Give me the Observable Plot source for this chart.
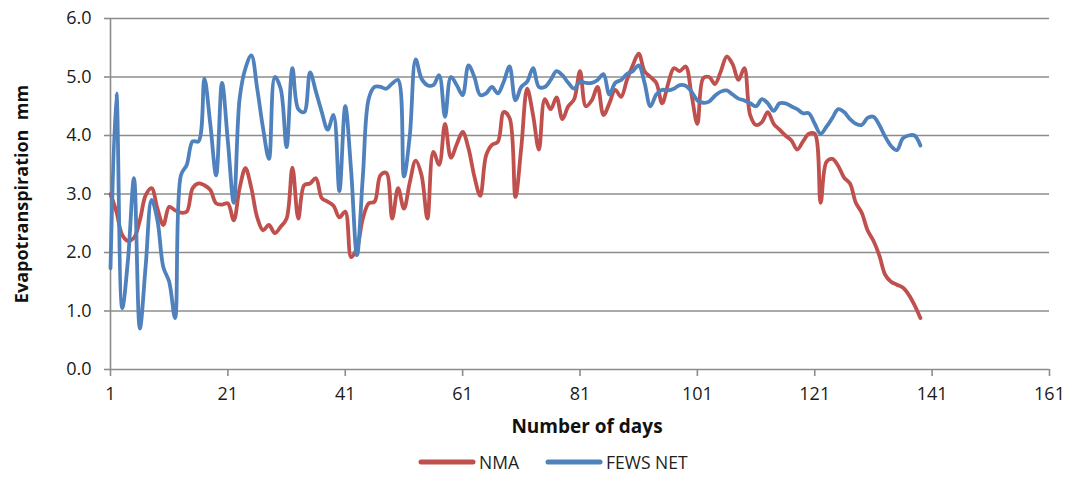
<!DOCTYPE html>
<html>
<head>
<meta charset="utf-8">
<script src="https://cdn.jsdelivr.net/npm/d3@7"></script>
<script src="https://cdn.jsdelivr.net/npm/@observablehq/plot@0.6"></script>
<style>
  body { margin: 0; background: #fff; font-family: "Open Sans", sans-serif; }
  #chart { position: relative; width: 1073px; height: 479px; background: #fff; }
  #chart svg text { white-space: pre; }
  .legend { position: absolute; left: 418px; top: 450px; display: flex; align-items: center; font-size: 17.5px; color: #1e1e1e; }
  .legend svg { display: block; }
  .legend span { margin-left: 3px; }
  .legend .gap { width: 26px; }
</style>
</head>
<body>
<div id="chart"></div>
<script>
// Daily evapotranspiration (mm), days 1–139
const nma = [
  3.0, 2.7, 2.3, 2.2, 2.25, 2.55, 2.98, 3.1, 2.75, 2.47,
  2.78, 2.72, 2.68, 2.7, 3.1, 3.18, 3.15, 3.07, 2.84, 2.82,
  2.84, 2.55, 3.1, 3.44, 3.1, 2.6, 2.38, 2.47, 2.33, 2.44,
  2.58, 3.45, 2.58, 3.15, 3.18, 3.27, 2.93, 2.87, 2.8, 2.6,
  2.7, 1.92, 2.08, 2.58, 2.84, 2.87, 3.32, 3.36, 2.58, 3.1,
  2.75, 3.2, 3.57, 3.32, 2.58, 3.72, 3.5, 4.2, 3.62, 3.85,
  4.06, 3.78, 3.3, 2.97, 3.66, 3.84, 3.89, 4.4, 4.3, 2.95,
  3.8, 4.8, 4.35, 3.76, 4.62, 4.45, 4.65, 4.28, 4.5, 4.62,
  5.1, 4.5, 4.6, 4.83, 4.35, 4.55, 4.78, 4.66, 4.95, 5.2,
  5.4, 5.1, 5.0, 4.9, 4.55, 4.88, 5.15, 5.1, 5.18, 4.7,
  4.2, 4.98, 5.0, 4.88, 5.1, 5.35, 5.22, 4.95, 5.15, 4.35,
  4.18, 4.23, 4.4, 4.2, 4.1, 4.0, 3.92, 3.76, 3.9, 4.03,
  4.03, 2.85, 3.55, 3.6, 3.48, 3.28, 3.18, 2.85, 2.68, 2.38,
  2.2, 1.95, 1.62, 1.5, 1.45, 1.4, 1.28, 1.1, 0.88
];

const fewsNet = [
  1.73, 4.72, 1.05, 1.9, 3.27, 0.7, 1.78, 2.9, 2.55, 1.75,
  1.5, 0.88, 3.32, 3.5, 3.9, 3.9, 4.97, 4.2, 3.32, 4.9,
  3.9, 2.85, 4.63, 5.15, 5.37, 4.8, 4.12, 3.6, 5.0, 4.8,
  3.8, 5.15, 4.45, 4.4, 5.08, 4.75, 4.4, 4.1, 4.35, 3.05,
  4.5, 3.4, 1.95, 3.3, 4.63, 4.83, 4.83, 4.8, 4.89, 4.95,
  3.3, 4.0, 5.3, 4.97, 4.86, 4.86, 5.03, 4.32, 5.0, 4.86,
  4.69, 5.2, 5.0, 4.69, 4.72, 4.83, 4.72, 4.92, 5.18, 4.6,
  4.83, 4.92, 5.15, 4.83, 4.83, 4.95, 5.1, 5.03, 4.9, 4.8,
  4.92, 4.9, 4.9, 4.95, 5.05, 4.7, 4.9, 4.95, 5.05, 5.1,
  5.2, 4.9, 4.5, 4.7, 4.78, 4.77, 4.8, 4.86, 4.85, 4.75,
  4.6, 4.56, 4.58, 4.68, 4.75, 4.77, 4.7, 4.63, 4.6, 4.55,
  4.5, 4.62, 4.55, 4.42, 4.55, 4.55, 4.5, 4.45, 4.38, 4.38,
  4.2, 4.03, 4.15, 4.3, 4.45, 4.4, 4.28, 4.2, 4.18, 4.3,
  4.32, 4.18, 3.98, 3.82, 3.75, 3.95, 4.0, 4.0, 3.83
];

const xTicks = [1, 21, 41, 61, 81, 101, 121, 141, 161];
const yTicks = [0, 1, 2, 3, 4, 5, 6];
const seriesNames = ["NMA", "FEWS NET"];
const seriesColors = ["#C0504D", "#4F81BD"];

const rows = nma.map((v, i) => ({ day: i + 1, nma: v, fews: fewsNet[i] }));
const gridColor = "#8c8c8c";

const chart = Plot.plot({
  width: 1073,
  height: 445,
  marginLeft: 110,
  marginRight: 24,
  marginTop: 18,
  marginBottom: 76,
  x: { domain: [1, 161] },
  y: { domain: [0, 6] },
  style: { fontFamily: "'Open Sans', sans-serif", fontSize: "18px", color: "#1a1a1a", background: "#fff" },
  marks: [
    Plot.gridY(yTicks, { stroke: gridColor, strokeOpacity: 1, strokeWidth: 1.6 }),
    Plot.ruleX([1], { stroke: gridColor, strokeWidth: 1.6 }),
    Plot.axisY(yTicks, { tickFormat: d => d.toFixed(1), tickSize: 6, tickPadding: 13, stroke: gridColor, strokeWidth: 1.6, label: null }),
    Plot.axisX(xTicks, { tickFormat: d => String(d), tickSize: 7, tickPadding: 11, stroke: gridColor, strokeWidth: 1.6, label: null }),
    Plot.line(rows, { x: "day", y: "nma", stroke: seriesColors[0], strokeWidth: 3.8, curve: "catmull-rom" }),
    Plot.line(rows, { x: "day", y: "fews", stroke: seriesColors[1], strokeWidth: 3.8, curve: "catmull-rom" }),
    Plot.text(["Evapotranspiration  mm"], { text: d => d, frameAnchor: "left", textAnchor: "middle", dx: -88, rotate: -90, fontWeight: "bold", fontSize: 18, fill: "#111" }),
    Plot.text(["Number of days"], { text: d => d, frameAnchor: "bottom", dy: 63, dx: 7, fontWeight: "bold", fontSize: 19, fill: "#111" })
  ]
});

const host = document.getElementById("chart");
host.appendChild(chart);

// Legend below the plot
const legend = document.createElement("div");
legend.className = "legend";
seriesNames.forEach((name, i) => {
  if (i > 0) {
    const gap = document.createElement("div");
    gap.className = "gap";
    legend.appendChild(gap);
  }
  const sw = d3.create("svg").attr("width", 58).attr("height", 12);
  sw.append("line").attr("x1", 3).attr("x2", 55).attr("y1", 6).attr("y2", 6)
    .attr("stroke", seriesColors[i]).attr("stroke-width", 5).attr("stroke-linecap", "round");
  legend.appendChild(sw.node());
  const label = document.createElement("span");
  label.textContent = name;
  legend.appendChild(label);
});
host.appendChild(legend);
</script>
</body>
</html>
